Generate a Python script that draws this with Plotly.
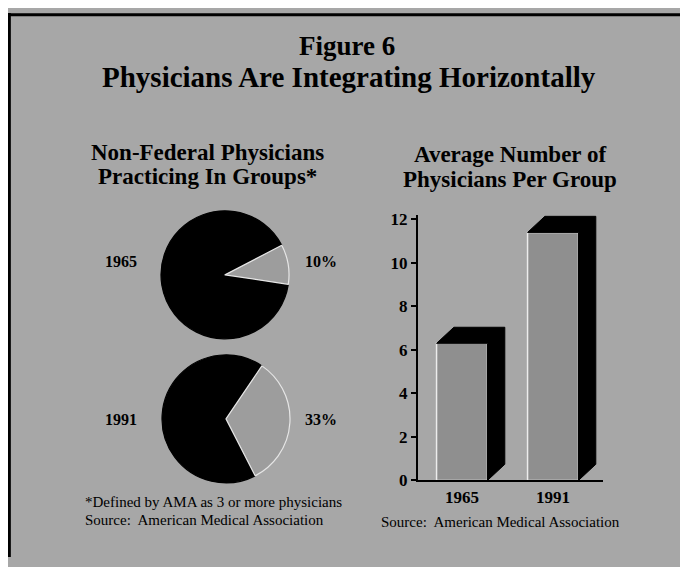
import plotly.graph_objects as go

# figure size; the page adds a margin and gets squeezed a little vertically
W, H = 672, 559
OFF_X = 8
OFF_Y, SCALE_Y = 13.2, 0.973

# left panel: non-federal physicians practicing in groups (percent)
pie_years = ["1965", "1991"]
pie_group_pct = [10, 33]

# right panel: average number of physicians per group
bar_years = ["1965", "1991"]
bar_values = [6.3, 11.4]
y_ticks = [0, 2, 4, 6, 8, 10, 12]

title_lines = ["Figure 6", "Physicians Are Integrating Horizontally"]
left_head = ["Non-Federal Physicians", "Practicing In Groups*"]
right_head = ["Average Number of", "Physicians Per Group"]
footnote = "*Defined by AMA as 3 or more physicians"
source = "Source:  American Medical Association"

BG = "#a7a7a7"
SLICE_GRAY = "#9d9d9d"
BAR_GRAY = "#8f8f8f"
SERIF = "Liberation Serif, Times New Roman, serif"


# screen pixel -> paper coords
def px(x):
    return (x - OFF_X) / W


def py(y):
    return 1 - (y - OFF_Y) / SCALE_Y / H


fig = go.Figure()

# pies -- centre in screen pixels, radius, angle of the grey slice's middle
pie_pos = [(225, 275), (226, 419)]
pie_mid = [9.5, -3.5]
R = 64
for yr, pct, (cx, cy), mid in zip(pie_years, pie_group_pct, pie_pos, pie_mid):
    fig.add_trace(go.Pie(
        values=[100 - pct, pct], labels=["Other", "In groups"],
        sort=False, direction="counterclockwise",
        rotation=90 - (mid - pct * 1.8),
        marker=dict(colors=["black", SLICE_GRAY],
                    line=dict(color=["black", "#e6e6e6"], width=1.2)),
        textinfo="none", hoverinfo="label+percent", showlegend=False,
        domain=dict(x=[px(cx - R), px(cx + R)], y=[py(cy + R), py(cy - R)]),
    ))

# 3d-looking bars: black top + side, then the grey front
BW = 0.56
DX, DY = 0.19, 0.74
xs = list(range(len(bar_years)))
for x, v in zip(xs, bar_values):
    xl, xr = x - BW / 2, x + BW / 2
    fig.add_trace(go.Scatter(
        x=[xl, xl + DX, xr + DX, xr + DX, xr, xr, xl],
        y=[v, v + DY, v + DY, DY, 0, v, v],
        fill="toself", fillcolor="black", mode="lines",
        line=dict(color="black", width=1), hoverinfo="skip", showlegend=False,
    ))
fig.add_trace(go.Bar(
    x=xs, y=bar_values, width=BW, showlegend=False,
    marker=dict(color=BAR_GRAY, line=dict(color="#ececec", width=1.5)),
))

fig.update_xaxes(
    domain=[px(418), px(603)], range=[-0.484, 1.549],
    tickvals=xs, ticktext=bar_years, ticks="",
    showline=True, linecolor="black", linewidth=2,
    showgrid=False, zeroline=False,
    tickfont=dict(family=SERIF, size=17, color="black", weight="bold"),
)
fig.update_yaxes(
    domain=[py(480.5), py(215.2)], range=[0, 12.2],
    tickvals=y_ticks, ticks="outside", ticklen=5, tickwidth=1.5, tickcolor="black",
    showline=True, linecolor="black", linewidth=2,
    showgrid=False, zeroline=False,
    tickfont=dict(family=SERIF, size=17, color="black", weight="bold"),
)

ann = []


def text(s, x, y, size, bold=True, anchor="center"):
    ann.append(dict(
        text=s, x=px(x), y=py(y), xref="paper", yref="paper",
        xanchor=anchor, yanchor="middle", showarrow=False,
        font=dict(family=SERIF, size=size, color="black",
                  weight="bold" if bold else "normal"),
    ))


text(title_lines[0], 347, 46, 27)
text(title_lines[1], 349, 77, 29)
text(left_head[0], 207, 153, 23)
text(left_head[1], 207, 177, 23)
text(right_head[0], 510, 155, 23)
text(right_head[1], 510, 180, 23)

label_y = [262, 420]
for yr, pct, ly in zip(pie_years, pie_group_pct, label_y):
    text(yr, 121, ly, 16)
    text(f"{pct}%", 321, ly, 16)

text(footnote, 83, 502, 15, bold=False, anchor="left")
text(source, 83, 520, 15, bold=False, anchor="left")
text(source, 379, 522, 15, bold=False, anchor="left")

shapes = [
    dict(type="line", xref="paper", yref="paper", x0=0, x1=1, y0=0.997, y1=0.997,
         line=dict(color="black", width=3)),
    dict(type="line", xref="paper", yref="paper", x0=0.002, x1=0.002, y0=0, y1=1,
         line=dict(color="black", width=3)),
]

fig.update_layout(
    width=W, height=H, margin=dict(l=0, r=0, t=0, b=0),
    paper_bgcolor=BG, plot_bgcolor="rgba(0,0,0,0)",
    annotations=ann, shapes=shapes, showlegend=False,
)

fig.write_html("out.html")
